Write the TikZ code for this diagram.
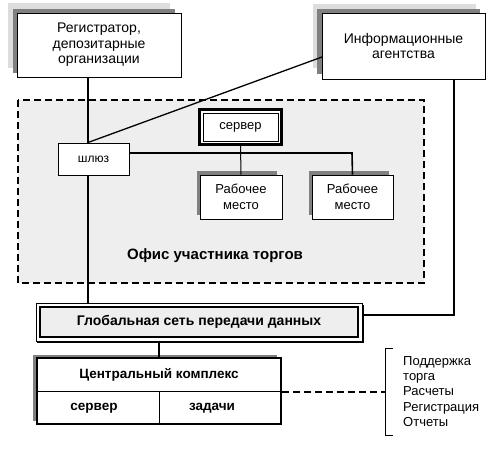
\documentclass[tikz,border=0pt]{standalone}
\usepackage{fontspec}
\setmainfont{Liberation Sans}
\usetikzlibrary{calc}
\definecolor{lgray}{HTML}{DDDDDD}
\definecolor{dgray}{HTML}{808080}
\definecolor{office}{HTML}{EEEEEE}
\tikzset{
  txt/.style={font=\fontsize{13}{15.5}\selectfont, align=center},
  bigtxt/.style={font=\fontsize{14}{15.5}\selectfont, align=center},
  btxt/.style={font=\fontsize{13.5}{16}\selectfont\bfseries, align=center},
  wbox/.style={draw, fill=white, line width=1pt, inner sep=0pt},
  link/.style={line width=1.6pt},
  thin link/.style={line width=1pt},
  dashline/.style={line width=1.6pt, dash pattern=on 7pt off 4pt},
}
\begin{document}
\begin{tikzpicture}[x=1pt,y=-1pt]
\useasboundingbox[fill=white] (0,0) rectangle (495,456);
% office region
\fill[office] (18,100) rectangle (424,283);
\draw[dashline, line width=1.4pt] (18,100) rectangle (424,283);
% shadows top boxes
\fill[lgray] (8,3) rectangle (170,68);
\fill[dgray] (13,9) rectangle (175,73);
\fill[lgray] (313,4) rectangle (476,68);
\fill[dgray] (317,9) rectangle (480,74);
% top boxes
\node[wbox, bigtxt, minimum width=164pt, minimum height=64pt] (reg) at (99,45)
  {Регистратор,\\депозитарные\\организации};
\node[wbox, bigtxt, minimum width=163pt, minimum height=66pt] (info) at (403.5,46)
  {Информационные\\агентства};
% gateway
\node[wbox, txt, font=\fontsize{12}{14}\selectfont, minimum width=71pt, minimum height=32pt] (gw) at (93.5,159) {шлюз};
% server
\node[draw, fill=white, line width=3pt, minimum width=82pt, minimum height=35pt] (srv) at (240.5,127) {};
\node[draw, line width=0.9pt, minimum width=75pt, minimum height=28pt, txt] (srvin) at (240.5,127) {сервер};
% workstations
\fill[dgray] (197,171) rectangle (277,215);
\fill[dgray] (309,171) rectangle (389,215);
\node[wbox, txt, minimum width=82pt, minimum height=44pt] (ws1) at (241,197) {Рабочее\\место};
\node[wbox, txt, minimum width=81pt, minimum height=44pt] (ws2) at (352.5,197) {Рабочее\\место};
\node[btxt, font=\fontsize{15}{17}\selectfont\bfseries] (officelbl) at (215,256) {Офис участника торгов};
% global network
\fill[black] (37,305) rectangle (364,343);
\node[draw, fill=white, line width=0.8pt, minimum width=326pt, minimum height=38pt] (net) at (199,322) {};
\node[draw, fill=office, line width=2.4pt, minimum width=318pt, minimum height=30pt, btxt, font=\fontsize{14}{16}\selectfont\bfseries] (netin) at (199,322) {Глобальная сеть передачи данных};
% central complex
\fill[dgray] (33,355) rectangle (277,421);
\node[draw, fill=white, line width=1.5pt, minimum width=244pt, minimum height=66pt] (cc) at (159,391) {};
\node[btxt] (cctitle) at (159,375) {Центральный комплекс};
\node[btxt] (ccsrv) at (94,408) {сервер};
\node[btxt] (cctask) at (212,408) {задачи};
\draw[line width=0.8pt] (cc.west |- 0,391) -- (cc.east |- 0,391);
\draw[line width=0.8pt] (cc.center |- 0,391) -- (cc.south);
% connectors
\coordinate (vx) at (88,0);
\draw[link] (reg.south -| vx) -- (gw.north -| vx);
\draw[link] (gw.south -| vx) -- (net.north -| vx);
\coordinate (ia) at (322,57);
\draw[line width=1.3pt] (ia) -- (gw.north -| vx);
\coordinate (bus) at (352,153);
\draw[link] (gw.east |- bus) -- (bus) -- (ws2.north);
\draw[thin link] (srv.south) -- (ws1.north);
\coordinate (rc) at (454,315);
\draw[link] (info.south -| rc) -- (rc) -- (net.east |- rc);
\draw[link] (net.south -| cc.north) -- (cc.north);
% bracket and list
\coordinate (br) at (385,392);
\draw[dashline] (cc.east |- br) -- (br);
\draw[line width=0.8pt] (393,348) -- (385,348) -- (385,435) -- (393,435);
\node[txt, font=\fontsize{13}{15.3}\selectfont, align=left, anchor=north west, inner sep=0pt] (list) at (403,356)
  {Поддержка\\торга\\Расчеты\\Регистрация\\Отчеты};
\end{tikzpicture}
\end{document}
